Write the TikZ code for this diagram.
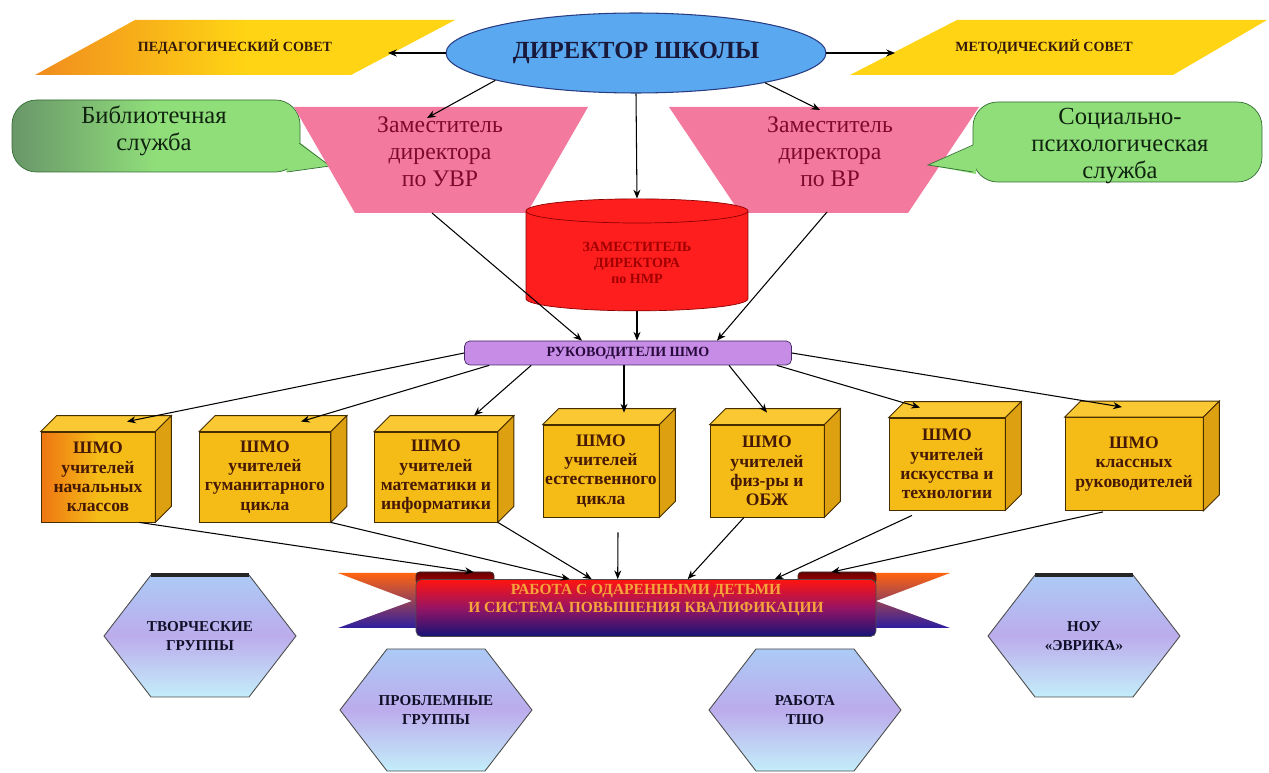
\documentclass[tikz,border=0pt]{standalone}
\usepackage{fontspec}
\setmainfont{Liberation Serif}
\usetikzlibrary{shapes.geometric,arrows.meta}

\definecolor{dirblue}{RGB}{90,168,240}
\definecolor{diredge}{RGB}{40,60,130}
\definecolor{dirtext}{RGB}{25,25,60}
\definecolor{councilyel}{RGB}{255,212,20}
\definecolor{councilorg}{RGB}{240,140,30}
\definecolor{counciltext}{RGB}{50,25,10}
\definecolor{callgreen}{RGB}{144,222,122}
\definecolor{calldark}{RGB}{105,150,105}
\definecolor{calledge}{RGB}{50,110,50}
\definecolor{calltext}{RGB}{15,35,15}
\definecolor{zampink}{RGB}{243,122,158}
\definecolor{zamtext}{RGB}{125,10,45}
\definecolor{nmrred}{RGB}{255,30,30}
\definecolor{nmredge}{RGB}{140,0,0}
\definecolor{nmrtext}{RGB}{160,0,0}
\definecolor{shmoviolet}{RGB}{198,140,230}
\definecolor{shmoedge}{RGB}{70,40,100}
\definecolor{shmotext}{RGB}{40,10,60}
\definecolor{cubegold}{RGB}{245,188,24}
\definecolor{cubetop}{RGB}{250,200,50}
\definecolor{cubeside}{RGB}{220,160,16}
\definecolor{cubeorange}{RGB}{238,118,18}
\definecolor{cubeedge}{RGB}{70,45,0}
\definecolor{cubetext}{RGB}{70,25,5}
\definecolor{ribred}{RGB}{255,20,16}
\definecolor{ribmid}{RGB}{150,20,100}
\definecolor{ribnavy}{RGB}{20,20,120}
\definecolor{wingtop}{RGB}{255,100,16}
\definecolor{wingbot}{RGB}{45,30,160}
\definecolor{ribtext}{RGB}{245,165,60}
\definecolor{hexatop}{RGB}{172,202,245}
\definecolor{hexamid}{RGB}{188,172,236}
\definecolor{hexabot}{RGB}{195,238,250}
\definecolor{hexatext}{RGB}{15,15,40}

\begin{document}
\begin{tikzpicture}[x=0.02cm,y=-0.02cm,
	arr/.style={-{Stealth[length=5pt,width=4pt]}, line width=0.6pt},
	council/.style={font=\fontsize{8}{9}\selectfont\bfseries, text=counciltext},
	service/.style={font=\fontsize{14}{15.5}\selectfont, text=calltext, align=center},
	zam/.style={font=\fontsize{13.5}{15.5}\selectfont, text=zamtext, align=center},
	shmo/.style={draw=cubeedge, fill=cubegold, line width=0.5pt, text=cubetext, align=center, inner sep=0pt, font=\fontsize{10}{11}\selectfont\bfseries},
	hexa/.style={draw=black!70, line width=0.5pt, top color=hexatop, bottom color=hexabot, middle color=hexamid},
	group/.style={font=\fontsize{8.6}{10.5}\selectfont\bfseries, text=hexatext, align=center}]
			\useasboundingbox (0,0) rectangle (1269,773);
			
			\shade[left color=councilorg, right color=councilyel, middle color=councilyel] (35,75) -- (135,20) -- (455,20) -- (351,75) -- cycle;
			\fill[councilyel] (850,75) -- (957,20) -- (1267,20) -- (1173,75) -- cycle;
			\node[council] (ped) at (235,47) {ПЕДАГОГИЧЕСКИЙ СОВЕТ};
			\node[council] (met) at (1044,47) {МЕТОДИЧЕСКИЙ СОВЕТ};
			\node[ellipse, draw=diredge, fill=dirblue, line width=0.6pt, minimum width=7.6cm, minimum height=1.6cm, font=\fontsize{14}{16}\selectfont\bfseries, text=dirtext] (dir) at (636,53) {ДИРЕКТОР ШКОЛЫ};
			
			\shadedraw[draw=calledge, left color=calldark, right color=callgreen, middle color=callgreen, rounded corners=14] (12,100) rectangle (300,172);
			\fill[callgreen] (298,141) -- (330,166) -- (286,172) -- cycle;
			\draw[calledge] (299,143) -- (330,166) -- (287,172);
			\fill[zampink] (294,107) -- (588,107) -- (527,213) -- (355,213) -- cycle;
			\fill[zampink] (669,107) -- (979,107) -- (908,213) -- (740,213) -- cycle;
			\filldraw[draw=calledge, fill=callgreen, rounded corners=14] (973,102) rectangle (1262,182);
			\fill[callgreen] (976,144) -- (928,165) -- (976,174) -- cycle;
			\draw[calledge] (973,145) -- (928,165) -- (973,172);
			\node[service] (lib) at (154,131) {Библиотечная\\служба};
			\node[service] (soc) at (1120,146) {Социально-\\психологическая\\служба};
			\node[zam] (uvr) at (440,152) {Заместитель\\директора\\по УВР};
			\node[zam] (vr) at (830,152) {Заместитель\\директора\\по ВР};
			
			\node[cylinder, shape border rotate=90, aspect=0.2, draw=nmredge, fill=nmrred, minimum width=4.44cm, minimum height=2.24cm, text=nmrtext, align=center, font=\fontsize{8}{9}\selectfont\bfseries] (nmr) at (637,263) {ЗАМЕСТИТЕЛЬ\\ДИРЕКТОРА\\по НМР};
			\node[draw=shmoedge, fill=shmoviolet, rounded corners=3pt, minimum width=6.54cm, minimum height=0.48cm, inner sep=0pt, text=shmotext, font=\fontsize{8}{9}\selectfont\bfseries] (rshmo) at (628,353) {РУКОВОДИТЕЛИ ШМО};
			
			\node[shmo, left color=cubeorange, right color=cubegold, middle color=cubegold, minimum width=2.28cm, minimum height=1.8cm] (c1) at (98,477) {ШМО\\учителей\\начальных\\классов};
			\node[shmo, minimum width=2.62cm, minimum height=1.8cm] (c2) at (265,477) {ШМО\\учителей\\гуманитарного\\цикла};
			\node[shmo, minimum width=2.46cm, minimum height=1.8cm] (c3) at (436,477) {ШМО\\учителей\\математики и\\информатики};
			\node[shmo, minimum width=2.32cm, minimum height=1.84cm] (c4) at (601,471) {ШМО\\учителей\\естественного\\цикла};
			\node[shmo, minimum width=2.28cm, minimum height=1.84cm] (c5) at (767,471) {ШМО\\учителей\\физ-ры и\\ОБЖ};
			\node[shmo, minimum width=2.32cm, minimum height=1.84cm] (c6) at (947,464) {ШМО\\учителей\\искусства и\\технологии};
			\node[shmo, minimum width=2.76cm, minimum height=1.86cm] (c7) at (1134,464) {ШМО\\классных\\руководителей};
			\foreach \i in {1,...,7}{
				\filldraw[draw=cubeedge, fill=cubetop, line width=0.5pt] (c\i.north west) -- ++(16,-16) -- ([shift={(16,-16)}]c\i.north east) -- (c\i.north east) -- cycle;
				\filldraw[draw=cubeedge, fill=cubeside, line width=0.5pt] (c\i.north east) -- ++(16,-16) -- ([shift={(16,-16)}]c\i.south east) -- (c\i.south east) -- cycle;
			}
			
			\shade[top color=wingtop, bottom color=wingbot] (338,573) -- (492,573) -- (492,628) -- (338,628) -- (412,601) -- cycle;
			\shade[top color=wingtop, bottom color=wingbot] (950,573) -- (800,573) -- (800,628) -- (950,628) -- (876,601) -- cycle;
			\shadedraw[draw=black!80, top color=black!60!red, bottom color=red!70!black, rounded corners=2pt] (416,572) rectangle (494,584);
			\shadedraw[draw=black!80, top color=black!60!red, bottom color=red!70!black, rounded corners=2pt] (798,572) rectangle (876,584);
			\node[draw=black!70, rounded corners=3pt, top color=ribred, bottom color=ribnavy, middle color=ribmid, minimum width=9.2cm, minimum height=1.14cm, inner sep=0pt] (rib) at (646,608) {};
			\node[align=center, text=ribtext, font=\fontsize{8.8}{10}\selectfont\bfseries] (ribtxt) at (646,600) {РАБОТА С ОДАРЕННЫМИ ДЕТЬМИ\\И СИСТЕМА ПОВЫШЕНИЯ КВАЛИФИКАЦИИ};
			
			\foreach \nm/\x/\y/\txt in {tvor/200/636/{ТВОРЧЕСКИЕ\\ГРУППЫ}, probl/436/710/{ПРОБЛЕМНЫЕ\\ГРУППЫ}, tsho/805/710/{РАБОТА\\ТШО}, nou/1084/636/{НОУ\\«ЭВРИКА»}}{
				\shadedraw[hexa] (\x,\y) ++(-96,0) -- ++(47,-61) -- ++(98,0) -- ++(47,61) -- ++(-47,61) -- ++(-98,0) -- cycle;
				\node[group] (\nm) at (\x,\y) {\txt};
			}
			\draw[line width=2.2pt, black!85] ([shift={(-49,-61)}]tvor.center) -- ([shift={(49,-61)}]tvor.center);
			\draw[line width=2.2pt, black!85] ([shift={(-49,-61)}]nou.center) -- ([shift={(49,-61)}]nou.center);
			
			\coordinate (pedtip) at (388,53);
			\coordinate (mettip) at (895,53);
			\coordinate (uvrtip) at (427,118);
			\coordinate (vrtip) at (820,110);
			\coordinate (uvrbot) at (432,213);
			\coordinate (vrbot) at (827,212);
			\draw[arr] (dir.west) -- (pedtip);
			\draw[arr] (dir.east) -- (mettip);
			\draw[arr] (dir.191) -- (uvrtip);
			\draw[arr] (dir.-13) -- (vrtip);
			\draw[arr] (dir.south) -- (nmr.north);
			\draw[arr] (nmr.south) -- (nmr.south |- rshmo.north);
			\draw[arr] (uvrbot) -- ([shift={(-46,0)}]rshmo.north);
			\draw[arr] (vrbot) -- ([shift={(89,0)}]rshmo.north);
			
			\draw[arr] (rshmo.west) -- ([shift={(29,-10)}]c1.north);
			\draw[arr] ([shift={(25,0)}]rshmo.south west) -- ([shift={(36,-10)}]c2.north);
			\draw[arr] ([shift={(67,0)}]rshmo.south west) -- ([shift={(38,-16)}]c3.north);
			\draw[arr] ([shift={(-4,0)}]rshmo.south) -- ([shift={(23,-12)}]c4.north);
			\draw[arr] ([shift={(101,0)}]rshmo.south) -- ([shift={(0,-12)}]c5.north);
			\draw[arr] ([shift={(-15,0)}]rshmo.south east) -- ([shift={(-27,-10)}]c6.north);
			\draw[arr] (rshmo.east) -- ([shift={(-12,-10)}]c7.north);
			
			\draw[arr] ([shift={(-16,0)}]c1.south east) -- ([shift={(58,-7)}]rib.north west);
			\draw[arr] (c2.south east) -- ([shift={(154,0)}]rib.north west);
			\draw[arr] (c3.south east) -- ([shift={(176,0)}]rib.north west);
			\draw[arr] ([shift={(17,15)}]c4.south) -- ([shift={(202,0)}]rib.north west);
			\draw[arr] ([shift={(-23,0)}]c5.south) -- ([shift={(272,0)}]rib.north west);
			\draw[arr] ([shift={(-35,5)}]c6.south) -- ([shift={(359,0)}]rib.north west);
			\draw[arr] ([shift={(-31,1)}]c7.south) -- ([shift={(-45,-7)}]rib.north east);
		\end{tikzpicture}
\end{document}
